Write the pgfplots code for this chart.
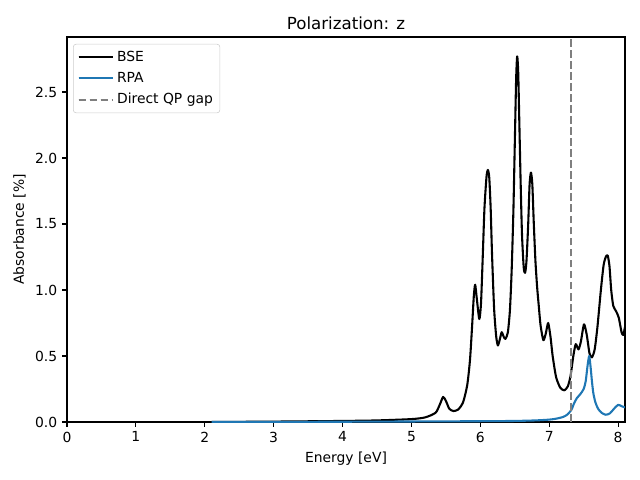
\documentclass[border=0pt]{standalone}
\usepackage{fontspec}
\setmainfont{DejaVu Sans}
\usepackage{pgfplots}
\pgfplotsset{compat=1.18}
\definecolor{mplblue}{HTML}{1F77B4}
\definecolor{mplgray}{HTML}{7F7F7F}
\begin{document}
\begin{tikzpicture}
\useasboundingbox (0,0) rectangle (460.8pt,345.6pt);
\begin{axis}[
  at={(48.24pt,41.76pt)}, anchor=south west,
  scale only axis, width=401.76pt, height=277.2pt,
  xmin=0, xmax=8.1, ymin=0, ymax=2.917,
  xtick={0,1,...,8},
  ytick={0,0.5,1,1.5,2,2.5},
  yticklabel style={/pgf/number format/.cd,fixed,fixed zerofill,precision=1},
  /pgf/number format/assume math mode=true,
  tick align=outside, tick pos=left,
  major tick length=3.5pt,
  every tick/.style={black, line width=0.8pt},
  axis line style={line width=0.8pt},
  tick label style={font=\fontsize{10}{12}\selectfont},
  label style={font=\fontsize{10}{12}\selectfont},
  title style={font=\fontsize{12}{14}\selectfont, yshift=-4pt},
  title={Polarization: z},
  xlabel={Energy [eV]},
  ylabel={Absorbance [\%]},
  legend style={at={(rel axis cs:0.0108,0.982)}, anchor=north west,
    draw=black!20, rounded corners=2pt, font=\fontsize{10}{12}\selectfont,
    row sep=2.3pt, inner sep=3pt},
  legend cell align=left,
  legend image code/.code={\draw[#1] (0pt,0pt) -- (20pt,0pt); \path (0pt,0pt) -- (25pt,0pt);},
]
\addplot[black, line width=1.5pt, line join=round, smooth, tension=0.4] coordinates {
(2.1,0.0) (3.0,0.003) (4.0,0.008) (4.5,0.012) (5.0,0.022) (5.2,0.035)
(5.35,0.07) (5.41,0.13) (5.46,0.19) (5.5,0.16) (5.55,0.10) (5.61,0.083)
(5.68,0.095) (5.75,0.15) (5.81,0.28) (5.85,0.47) (5.88,0.72) (5.905,0.95) (5.925,1.04)
(5.95,0.93) (5.985,0.78) (6.01,0.9) (6.035,1.25) (6.06,1.62) (6.09,1.86) (6.11,1.91)
(6.13,1.85) (6.15,1.62) (6.17,1.27) (6.20,0.86) (6.23,0.65) (6.255,0.58) (6.285,0.63) (6.31,0.68)
(6.34,0.645) (6.365,0.63) (6.40,0.68) (6.43,0.85) (6.455,1.15) (6.48,1.6) (6.50,2.1) (6.52,2.6)
(6.535,2.77) (6.55,2.65) (6.565,2.3) (6.585,1.82) (6.605,1.42) (6.63,1.17) (6.65,1.13) (6.67,1.22)
(6.695,1.5) (6.715,1.8) (6.735,1.89) (6.755,1.8) (6.775,1.52) (6.80,1.22) (6.825,1.02) (6.85,0.87)
(6.875,0.73) (6.915,0.62) (6.95,0.67) (6.985,0.75) (7.02,0.64) (7.05,0.5) (7.10,0.34)
(7.16,0.26) (7.22,0.24) (7.27,0.27) (7.31,0.35) (7.35,0.5) (7.385,0.59)
(7.425,0.55) (7.46,0.61) (7.505,0.74) (7.545,0.66) (7.585,0.52) (7.62,0.49)
(7.66,0.55) (7.70,0.72) (7.75,1.0) (7.79,1.19) (7.825,1.255) (7.85,1.26) (7.875,1.18)
(7.90,1.0) (7.93,0.88) (7.97,0.84) (8.01,0.79) (8.05,0.68) (8.075,0.66) (8.1,0.72)
};
\addlegendentry{BSE}
\addplot[mplblue, line width=1.5pt, line join=round, smooth, tension=0.4] coordinates {
(2.1,0.0) (4.0,0.002) (5.0,0.004) (6.0,0.006) (6.5,0.008) (6.8,0.012)
(7.0,0.018) (7.1,0.025) (7.2,0.038) (7.26,0.055) (7.32,0.09) (7.36,0.14)
(7.40,0.18) (7.45,0.21) (7.50,0.25) (7.53,0.31) (7.555,0.42) (7.58,0.50)
(7.60,0.42) (7.62,0.31) (7.64,0.22) (7.67,0.15) (7.71,0.10) (7.76,0.07)
(7.82,0.055) (7.88,0.065) (7.94,0.10) (8.0,0.13) (8.05,0.12) (8.1,0.11)
};
\addlegendentry{RPA}
\addplot[mplgray, line width=1.5pt, dash pattern=on 5.55pt off 2.4pt] coordinates {(7.32,0) (7.32,2.917)};
\addlegendentry{Direct QP gap}
\end{axis}
\end{tikzpicture}
\end{document}
